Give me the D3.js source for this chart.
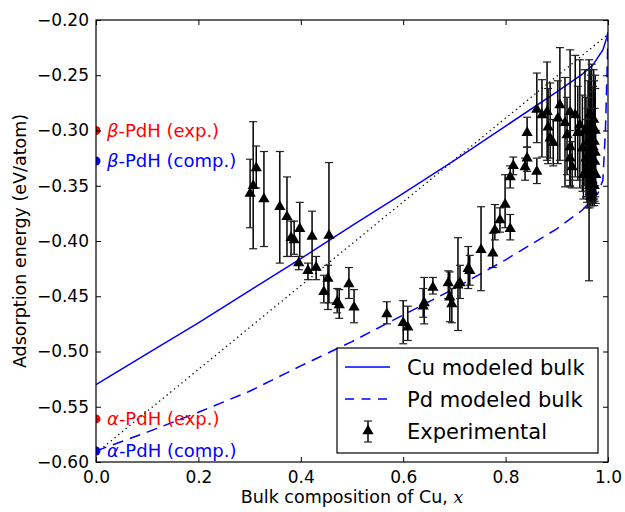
<!DOCTYPE html>
<html>
<head>
<meta charset="utf-8">
<script src="https://cdn.jsdelivr.net/npm/d3@7"></script>
<style>
  body { margin: 0; background: #fff; }
  svg { font-family: "DejaVu Sans", sans-serif; }
</style>
</head>
<body>
<div id="chart"></div>
<script>
// Modeled curves
const cuX = [0, 0.1, 0.2, 0.3, 0.4, 0.5, 0.6, 0.7, 0.8, 0.9, 0.95, 0.97, 0.98, 0.99, 0.995, 1.0];
const cuY = [-0.530, -0.502, -0.474, -0.445, -0.416, -0.386, -0.357, -0.327, -0.296, -0.265, -0.249, -0.241, -0.234, -0.227, -0.220, -0.211];

const pdX = [0, 0.1, 0.2, 0.3, 0.4, 0.5, 0.6, 0.7, 0.8, 0.9, 0.95, 0.97, 0.98, 0.99, 0.995, 0.998, 1.0];
const pdY = [-0.590, -0.573, -0.555, -0.536, -0.513, -0.491, -0.467, -0.443, -0.417, -0.389, -0.372, -0.362, -0.357, -0.345, -0.300, -0.250, -0.212];

const dotX = [0, 1];
const dotY = [-0.592, -0.213];

// Experimental points: x, y, top and bottom of error bar
const expX = [0.301, 0.307, 0.313, 0.328, 0.359, 0.373, 0.381, 0.387, 0.398, 0.396,
  0.414, 0.422, 0.430, 0.455, 0.445, 0.453, 0.471, 0.475, 0.494, 0.504,
  0.568, 0.600, 0.609, 0.641, 0.639, 0.658, 0.688, 0.691, 0.695, 0.707,
  0.711, 0.727, 0.730, 0.752, 0.775, 0.779, 0.789, 0.799, 0.809, 0.809,
  0.815, 0.838, 0.842, 0.842, 0.861, 0.861, 0.871, 0.881, 0.883, 0.887,
  0.893, 0.906, 0.902, 0.916, 0.920, 0.926, 0.926, 0.926, 0.930, 0.936,
  0.941, 0.945, 0.950, 0.955, 0.959, 0.963, 0.965, 0.967, 0.968, 0.969,
  0.970, 0.972, 0.973, 0.974, 0.975, 0.966,
  0.960, 0.961, 0.964, 0.966, 0.968, 0.970, 0.971, 0.973, 0.975, 0.976, 0.957, 0.952];
const expY = [-0.357, -0.350, -0.334, -0.362, -0.369, -0.378, -0.397, -0.399, -0.389, -0.420,
  -0.427, -0.396, -0.424, -0.395, -0.446, -0.434, -0.455, -0.458, -0.439, -0.460,
  -0.466, -0.474, -0.478, -0.456, -0.459, -0.442, -0.438, -0.451, -0.457, -0.440,
  -0.438, -0.425, -0.427, -0.408, -0.411, -0.390, -0.381, -0.367, -0.389, -0.342,
  -0.332, -0.333, -0.325, -0.302, -0.337, -0.281, -0.286, -0.283, -0.297, -0.307,
  -0.311, -0.277, -0.289, -0.293, -0.304, -0.283, -0.315, -0.325, -0.333, -0.286,
  -0.302, -0.295, -0.316, -0.300, -0.335, -0.340, -0.285, -0.300, -0.320, -0.345,
  -0.355, -0.290, -0.310, -0.328, -0.300, -0.360,
  -0.330, -0.310, -0.350, -0.330, -0.295, -0.335, -0.315, -0.350, -0.320, -0.340, -0.325, -0.340];
const expTop = [-0.326, -0.292, -0.314, -0.319, -0.319, -0.342, -0.382, -0.382, -0.365, -0.414,
  -0.420, -0.373, -0.414, -0.329, -0.431, -0.422, -0.443, -0.444, -0.424, -0.444,
  -0.455, -0.454, -0.459, -0.433, -0.443, -0.433, -0.427, -0.428, -0.443, -0.397,
  -0.422, -0.405, -0.413, -0.369, -0.393, -0.367, -0.370, -0.340, -0.376, -0.332,
  -0.324, -0.325, -0.315, -0.288, -0.325, -0.248, -0.254, -0.238, -0.262, -0.257,
  -0.290, -0.225, -0.255, -0.252, -0.270, -0.227, -0.285, -0.300, -0.310, -0.232,
  -0.260, -0.236, -0.268, -0.245, -0.290, -0.236, -0.245, -0.250, -0.265, -0.300,
  -0.320, -0.245, -0.255, -0.280, -0.250, -0.330,
  -0.280, -0.255, -0.300, -0.270, -0.240, -0.290, -0.260, -0.310, -0.262, -0.300, -0.270, -0.300];
const expBottom = [-0.388, -0.407, -0.352, -0.405, -0.420, -0.414, -0.414, -0.412, -0.414, -0.426,
  -0.435, -0.426, -0.435, -0.456, -0.456, -0.462, -0.465, -0.470, -0.452, -0.474,
  -0.475, -0.493, -0.490, -0.475, -0.469, -0.448, -0.452, -0.473, -0.474, -0.481,
  -0.452, -0.443, -0.440, -0.445, -0.424, -0.399, -0.392, -0.388, -0.399, -0.352,
  -0.340, -0.345, -0.337, -0.315, -0.348, -0.311, -0.324, -0.327, -0.330, -0.325,
  -0.332, -0.327, -0.330, -0.351, -0.340, -0.351, -0.345, -0.350, -0.352, -0.342,
  -0.345, -0.352, -0.355, -0.350, -0.365, -0.436, -0.330, -0.360, -0.366, -0.366,
  -0.368, -0.340, -0.362, -0.364, -0.350, -0.368,
  -0.370, -0.360, -0.370, -0.368, -0.350, -0.366, -0.362, -0.368, -0.360, -0.366, -0.360, -0.362];

// Reference markers on the y axis
const refLabels = ["β|-PdH (exp.)", "β|-PdH (comp.)", "α|-PdH (exp.)", "α|-PdH (comp.)"];
const refValues = [-0.300, -0.3276, -0.561, -0.590];
const refColors = ["#ff0000", "#0000ff", "#ff0000", "#0000ff"];

const xTicks = [0, 0.2, 0.4, 0.6, 0.8, 1.0];
const yTicks = [-0.60, -0.55, -0.50, -0.45, -0.40, -0.35, -0.30, -0.25, -0.20];

const legendLabels = ["Cu modeled bulk", "Pd modeled bulk", "Experimental"];

// Layout

const width = 625;
const height = 512;
const margin = { top: 20, right: 17, bottom: 50, left: 96 };

const svg = d3
  .select("#chart")
  .append("svg")
  .attr("width", width)
  .attr("height", height);

svg.append("rect").attr("width", width).attr("height", height).attr("fill", "#fff");

const xScale = d3
  .scaleLinear()
  .domain([0, 1])
  .range([margin.left, width - margin.right]);

const yScale = d3
  .scaleLinear()
  .domain([-0.6, -0.2])
  .range([height - margin.bottom, margin.top]);

svg
  .append("clipPath")
  .attr("id", "plotclip")
  .append("rect")
  .attr("x", margin.left)
  .attr("y", margin.top)
  .attr("width", xScale(1) - margin.left)
  .attr("height", yScale(-0.6) - margin.top);

const plot = svg.append("g").attr("clip-path", "url(#plotclip)");

const line = d3
  .line()
  .x((d) => xScale(d[0]))
  .y((d) => yScale(d[1]));

// Curves

plot
  .append("path")
  .datum(d3.zip(dotX, dotY))
  .attr("d", line)
  .attr("fill", "none")
  .attr("stroke", "#000")
  .attr("stroke-width", 1.3)
  .attr("stroke-dasharray", "1.3,3.5");

plot
  .append("path")
  .datum(d3.zip(cuX, cuY))
  .attr("d", line)
  .attr("fill", "none")
  .attr("stroke", "#0000ff")
  .attr("stroke-width", 1.5);

plot
  .append("path")
  .datum(d3.zip(pdX, pdY))
  .attr("d", line)
  .attr("fill", "none")
  .attr("stroke", "#0000ff")
  .attr("stroke-width", 1.5)
  .attr("stroke-dasharray", "11,7");

// Error bars and markers

const expData = expX.map((x, i) => ({
  x,
  y: expY[i],
  top: expTop[i],
  bottom: expBottom[i],
}));

const bars = plot.append("g").attr("stroke", "#000").attr("stroke-width", 1.5);

bars
  .selectAll(".bar")
  .data(expData)
  .enter()
  .append("line")
  .attr("x1", (d) => xScale(d.x))
  .attr("x2", (d) => xScale(d.x))
  .attr("y1", (d) => yScale(d.top))
  .attr("y2", (d) => yScale(d.bottom));

["top", "bottom"].forEach((key) => {
  bars
    .selectAll(".cap-" + key)
    .data(expData)
    .enter()
    .append("line")
    .attr("stroke", "#222")
    .attr("stroke-width", 1.2)
    .attr("x1", (d) => xScale(d.x) - 4)
    .attr("x2", (d) => xScale(d.x) + 4)
    .attr("y1", (d) => yScale(d[key]))
    .attr("y2", (d) => yScale(d[key]));
});

const tri = d3.symbol().type(d3.symbolTriangle).size(55);

plot
  .selectAll(".marker")
  .data(expData)
  .enter()
  .append("path")
  .attr("d", tri)
  .attr("transform", (d) => `translate(${xScale(d.x)},${yScale(d.y)})`)
  .attr("fill", "#000");

// Reference points on the y axis

plot
  .selectAll(".ref")
  .data(refValues)
  .enter()
  .append("circle")
  .attr("cx", xScale(0))
  .attr("cy", (d) => yScale(d))
  .attr("r", 4.5)
  .attr("fill", (d, i) => refColors[i]);

refLabels.forEach((label, i) => {
  const parts = label.split("|");
  const t = svg
    .append("text")
    .attr("x", xScale(0) + 11)
    .attr("y", yScale(refValues[i]))
    .attr("dy", "0.36em")
    .attr("font-size", 18)
    .attr("fill", refColors[i]);
  t.append("tspan").attr("font-style", "italic").text(parts[0]);
  t.append("tspan").text(parts[1]);
});

// Axes (ticks point inward on all four sides)

svg
  .append("g")
  .attr("transform", `translate(${margin.left},0)`)
  .call(d3.axisLeft(yScale).tickValues(yTicks).tickFormat(d3.format(".2f")).tickSizeInner(-5).tickSizeOuter(0).tickPadding(7));

svg
  .append("g")
  .attr("transform", `translate(0,${height - margin.bottom})`)
  .call(d3.axisBottom(xScale).tickValues(xTicks).tickFormat(d3.format(".1f")).tickSizeInner(-5).tickSizeOuter(0).tickPadding(9));

svg
  .append("g")
  .attr("transform", `translate(${xScale(1)},0)`)
  .call(d3.axisRight(yScale).tickValues(yTicks).tickFormat("").tickSizeInner(-5).tickSizeOuter(0));

svg
  .append("g")
  .attr("transform", `translate(0,${margin.top})`)
  .call(d3.axisTop(xScale).tickValues(xTicks).tickFormat("").tickSizeInner(-5).tickSizeOuter(0));

svg.selectAll(".domain").remove();
svg.selectAll(".tick line").attr("stroke", "#000").attr("stroke-width", 1);
svg
  .selectAll(".tick text")
  .attr("font-family", "DejaVu Sans")
  .attr("font-size", 17)
  .attr("fill", "#000");

svg
  .append("rect")
  .attr("x", margin.left)
  .attr("y", margin.top)
  .attr("width", xScale(1) - margin.left)
  .attr("height", yScale(-0.6) - margin.top)
  .attr("fill", "none")
  .attr("stroke", "#000")
  .attr("stroke-width", 1.2);

// Axis labels

const xLabel = svg
  .append("text")
  .attr("x", (xScale(0) + xScale(1)) / 2)
  .attr("y", 503)
  .attr("text-anchor", "middle")
  .attr("font-size", 17.5);
xLabel.append("tspan").text("Bulk composition of Cu, ");
xLabel.append("tspan").attr("font-family", "DejaVu Serif").attr("font-style", "italic").text("x");

svg
  .append("text")
  .attr("transform", `translate(26,${(yScale(-0.2) + yScale(-0.6)) / 2}) rotate(-90)`)
  .attr("text-anchor", "middle")
  .attr("font-size", 17.5)
  .text("Adsorption energy (eV/atom)");

// Legend

const legend = svg.append("g");

legend
  .append("rect")
  .attr("x", 337)
  .attr("y", 348)
  .attr("width", 261)
  .attr("height", 105)
  .attr("fill", "#fff")
  .attr("stroke", "#000")
  .attr("stroke-width", 1.2);

const rowY = [367, 399, 431];

legend
  .append("line")
  .attr("x1", 345)
  .attr("x2", 390)
  .attr("y1", rowY[0])
  .attr("y2", rowY[0])
  .attr("stroke", "#0000ff")
  .attr("stroke-width", 1.5);

legend
  .append("line")
  .attr("x1", 345)
  .attr("x2", 390)
  .attr("y1", rowY[1])
  .attr("y2", rowY[1])
  .attr("stroke", "#0000ff")
  .attr("stroke-width", 1.5)
  .attr("stroke-dasharray", "9,7.5");

legend
  .append("line")
  .attr("x1", 368)
  .attr("x2", 368)
  .attr("y1", rowY[2] - 10)
  .attr("y2", rowY[2] + 11)
  .attr("stroke", "#000")
  .attr("stroke-width", 1.5);

[rowY[2] - 10, rowY[2] + 11].forEach((cy) => {
  legend
    .append("line")
    .attr("x1", 364)
    .attr("x2", 372)
    .attr("y1", cy)
    .attr("y2", cy)
    .attr("stroke", "#222")
    .attr("stroke-width", 1.2);
});

legend
  .append("path")
  .attr("d", tri)
  .attr("transform", `translate(368,${rowY[2]})`)
  .attr("fill", "#000");

legend
  .selectAll(".legend-text")
  .data(legendLabels)
  .enter()
  .append("text")
  .attr("x", 407)
  .attr("y", (d, i) => rowY[i])
  .attr("dy", "0.36em")
  .attr("font-size", 21)
  .text((d) => d);
</script>
</body>
</html>
